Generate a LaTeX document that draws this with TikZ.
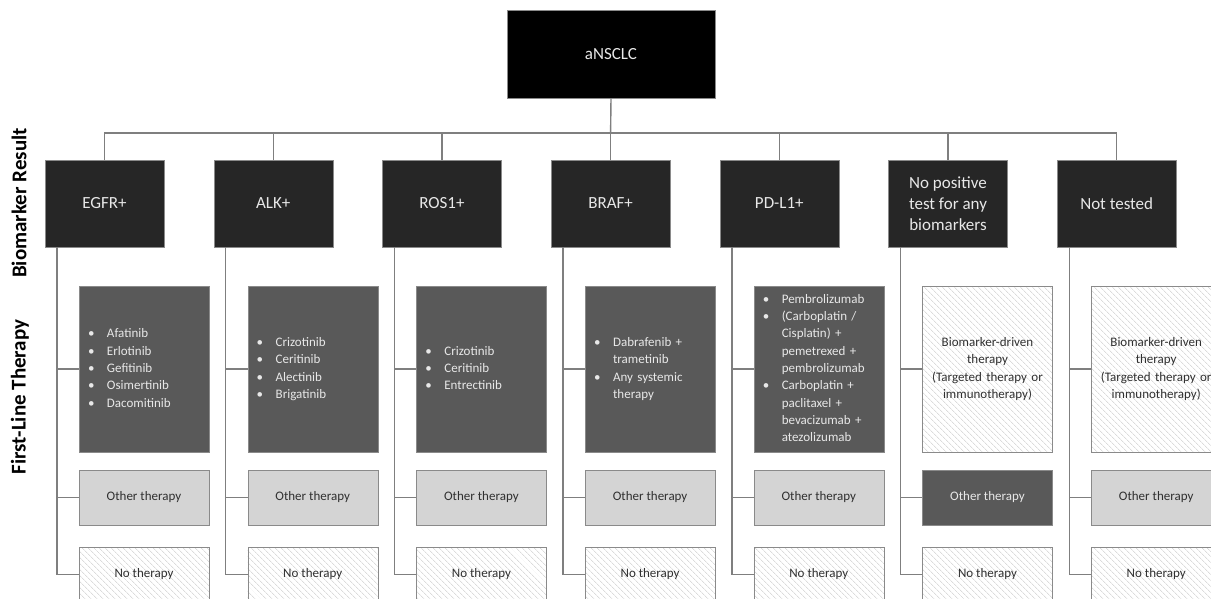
\documentclass[tikz,border=0pt]{standalone}
\usepackage{fontspec}
\setmainfont{Carlito}
\usepackage{tikz}
\usetikzlibrary{positioning,calc,patterns.meta}
\definecolor{boxline}{HTML}{8A8A8A}
\definecolor{linkgray}{HTML}{7F7F7F}
\definecolor{markerfill}{HTML}{262626}
\definecolor{drugfill}{HTML}{595959}
\definecolor{otherfill}{HTML}{D4D4D4}
\definecolor{lighttext}{HTML}{E8E8E8}
\definecolor{darktext}{HTML}{303030}
\definecolor{hatch}{HTML}{C8C8C8}
\tikzset
{
    rootbox/.style = {draw=boxline, fill=black, text=lighttext, minimum width=208pt, minimum height=88pt, font=\fontsize{17}{21}\selectfont},
    markerbox/.style = {draw=boxline, fill=markerfill, text=lighttext, align=center, minimum width=119pt, minimum height=87pt, font=\fontsize{17}{21}\selectfont},
    drugbox/.style = {draw=boxline, fill=drugfill, text=lighttext, align=left, text width=112pt, inner xsep=9pt, minimum width=130pt, minimum height=166pt, font=\fontsize{13}{17.3}\selectfont},
    openbox/.style = {draw=boxline, pattern={Lines[angle=-45,distance=4pt,line width=0.6pt]}, pattern color=hatch, text=darktext, align=center, text width=126pt, inner xsep=2pt, minimum height=166pt, font=\fontsize{13}{17.5}\selectfont},
    otherbox/.style = {draw=boxline, fill=otherfill, text=darktext, minimum width=130pt, minimum height=55pt, font=\fontsize{13}{17}\selectfont},
    otherdark/.style = {otherbox, fill=drugfill, text=lighttext},
    nonebox/.style = {draw=boxline, pattern={Lines[angle=-45,distance=4pt,line width=0.6pt]}, pattern color=hatch, text=darktext, minimum width=130pt, minimum height=55pt, font=\fontsize{13}{17}\selectfont},
    sidelabel/.style = {rotate=90, font=\fontsize{21}{25}\bfseries\selectfont, text=black},
    link/.style = {draw=linkgray, line width=1.4pt}
}
\newcommand\druglist[1]{\begin{tabular}{@{}p{19pt}@{}l@{}}#1\end{tabular}}

\begin{document}
\begin{tikzpicture}[x=1pt, y=-1pt]
		\useasboundingbox (0,0) rectangle (1211,599);
		\clip (0,0) rectangle (1211,599);
		% top of the tree
		\node[rootbox] (root) at (611,54) {aNSCLC};
		\coordinate (bus) at (610.6,133);
		\node[sidelabel] (biolabel) at (19,203) {Biomarker Result};
		\node[sidelabel] (firstlabel) at (20,397) {First-Line Therapy};
		% biomarker results
		\foreach \i/\nm/\lbl in {0/egfr/EGFR+, 1/alk/ALK+, 2/ros/ROS1+, 3/braf/BRAF+, 4/pdl/PD-L1+, 5/nopos/{No positive\\test for any\\biomarkers}, 6/nottest/Not tested}
		{
			\node[markerbox] (\nm) at ({104.5+168.7*\i},203.5) {\lbl};
		}
		% first-line therapy
		\node[drugbox] (egfr-drug) at (144,369) {\druglist{\textbullet & Afatinib\\ \textbullet & Erlotinib\\ \textbullet & Gefitinib\\ \textbullet & Osimertinib\\ \textbullet & Dacomitinib}};
		\node[drugbox] (alk-drug) at (312.7,369) {\druglist{\textbullet & Crizotinib\\ \textbullet & Ceritinib\\ \textbullet & Alectinib\\ \textbullet & Brigatinib}};
		\node[drugbox] (ros-drug) at (481.4,369) {\druglist{\textbullet & Crizotinib\\ \textbullet & Ceritinib\\ \textbullet & Entrectinib}};
		\node[drugbox] (braf-drug) at (650.1,369) {\druglist{\textbullet & Dabrafenib +\\ & trametinib\\ \textbullet & Any systemic\\ & therapy}};
		\node[drugbox] (pdl-drug) at (818.8,369) {\druglist{\textbullet & Pembrolizumab\\ \textbullet & (Carboplatin /\\ & Cisplatin) +\\ & pemetrexed +\\ & pembrolizumab\\ \textbullet & Carboplatin +\\ & paclitaxel +\\ & bevacizumab +\\ & atezolizumab}};
		\node[openbox] (nopos-drug) at (987.5,369) {Biomarker-driven\\therapy\\(Targeted therapy or\\immunotherapy)};
		\node[openbox] (nottest-drug) at (1156.2,369) {Biomarker-driven\\therapy\\(Targeted therapy or\\immunotherapy)};
		\foreach \i/\nm/\ostyle in {0/egfr/otherbox, 1/alk/otherbox, 2/ros/otherbox, 3/braf/otherbox, 4/pdl/otherbox, 5/nopos/otherdark, 6/nottest/otherbox}
		{
			\node[\ostyle] (\nm-other) at ({144+168.7*\i},497.5) {Other therapy};
			\node[nonebox] (\nm-none) at ({144+168.7*\i},574.5) {No therapy};
		}
		% connectors
		\draw[link] (root.south) -- (bus);
		\foreach \nm in {egfr,alk,ros,braf,pdl,nopos,nottest}
		{
			\draw[link] (bus) -| (\nm.north);
			\draw[link] ([xshift=-47.5pt]\nm.south) |- (\nm-drug.west);
			\draw[link] ([xshift=-47.5pt]\nm.south) |- (\nm-other.west);
			\draw[link] ([xshift=-47.5pt]\nm.south) |- (\nm-none.west);
		}
\end{tikzpicture}
\end{document}
